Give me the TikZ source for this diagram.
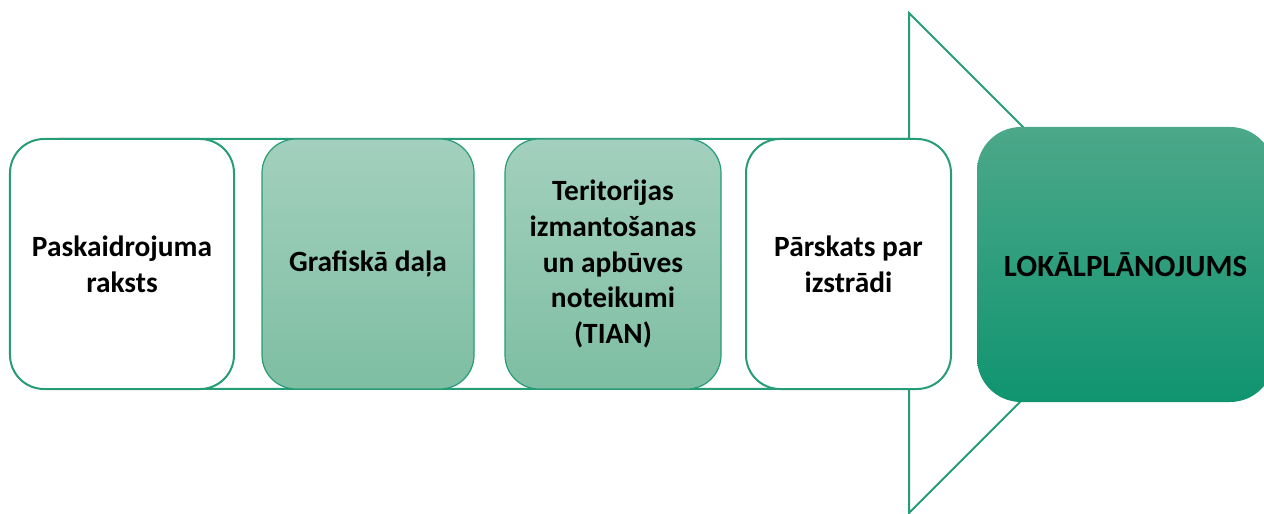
\documentclass[tikz,border=0pt]{standalone}
\usepackage{fontspec}
\setmainfont{Carlito}
\definecolor{edgegreen}{RGB}{38,157,118}
\definecolor{lighttop}{RGB}{163,208,190}
\definecolor{lightbot}{RGB}{126,190,163}
\definecolor{darktop}{RGB}{76,168,137}
\definecolor{darkbot}{RGB}{16,148,112}
\tikzset{
  box/.style={draw=edgegreen, line width=2bp, rounded corners=34bp, inner sep=0pt,
    minimum height=250bp, align=center,
    font=\fontsize{29.5}{36}\selectfont\bfseries},
  whitebox/.style={box, fill=white},
  lightbox/.style={box, line width=1.2bp, top color=lighttop, bottom color=lightbot},
  mainbox/.style={box, draw=none, rounded corners=44bp, minimum height=275bp,
    top color=darktop, bottom color=darkbot},
  bigarrow/.style={draw=edgegreen, line width=2bp, fill=white, line join=miter}
}
\begin{document}
\begin{tikzpicture}[x=1bp,y=-1bp]
\useasboundingbox (0,0) rectangle (1264,514);
\clip (0,0) rectangle (1264,514);
\coordinate (a1) at (60,139);
\coordinate (a2) at (909,139);
\coordinate (a3) at (909,13);
\coordinate (a4) at (1159,263);
\coordinate (a5) at (909,513);
\coordinate (a6) at (909,389);
\coordinate (a7) at (60,389);
\draw[bigarrow] (a1) -- (a2) -- (a3) -- (a4) -- (a5) -- (a6) -- (a7) -- cycle;
\node[whitebox, minimum width=224bp] (b1) at (122,264) {Paskaidrojuma\\raksts};
\node[lightbox, minimum width=212bp] (b2) at (368,264) {Grafiskā daļa};
\node[lightbox, minimum width=216bp] (b3) at (613,264) {Teritorijas\\izmantošanas\\un apbūves\\noteikumi\\(TIAN)};
\node[whitebox, minimum width=205bp] (b4) at (848.5,264) {Pārskats par\\izstrādi};
\node[mainbox, minimum width=297bp, font=\fontsize{31}{36}\selectfont\bfseries] (b5) at (1125.5,264.5) {LOKĀLPLĀNOJUMS};
\end{tikzpicture}
\end{document}
